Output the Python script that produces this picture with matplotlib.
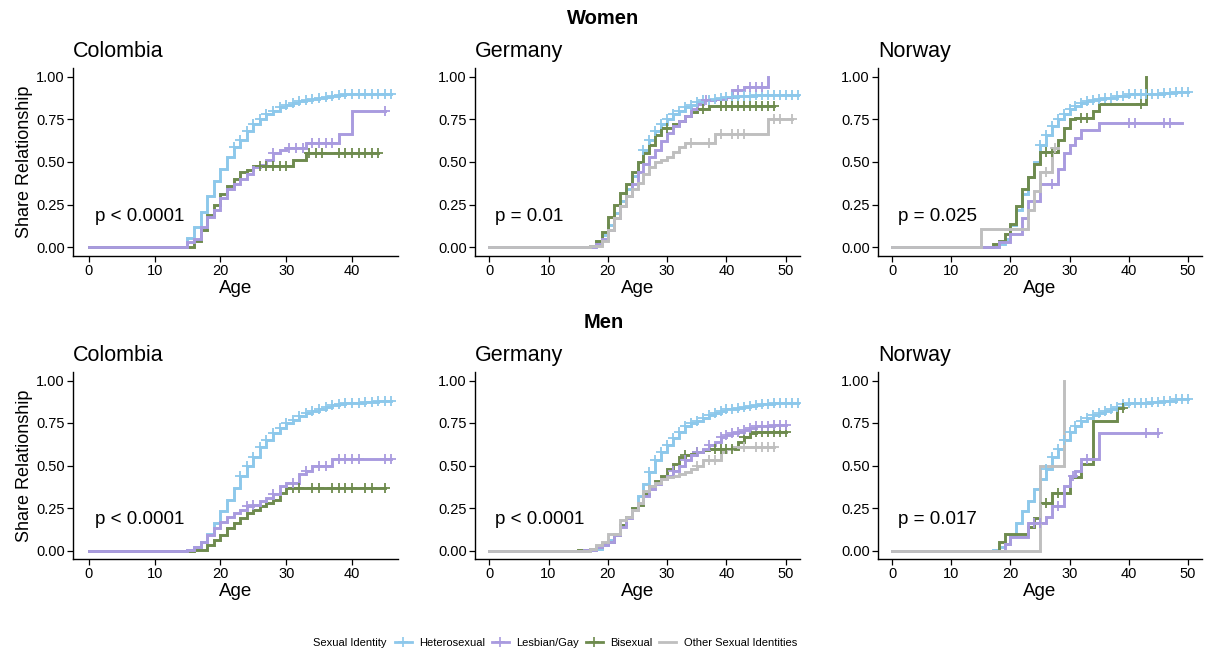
import numpy as np
import matplotlib
matplotlib.use("Agg")
from matplotlib import pyplot as plt
from matplotlib.lines import Line2D

plt.rcParams['font.family'] = ['Liberation Sans', 'DejaVu Sans']

groups = ["Heterosexual", "Lesbian/Gay", "Bisexual", "Other Sexual Identities"]
colors = {"Heterosexual": "#8dc8eb", "Lesbian/Gay": "#a99bdf",
          "Bisexual": "#6e8b4e", "Other Sexual Identities": "#bfbfbf"}
countries = ["Colombia", "Germany", "Norway"]
sexes = ["Women", "Men"]
pvals = {("Women", "Colombia"): "p < 0.0001", ("Women", "Germany"): "p = 0.01",
         ("Women", "Norway"): "p = 0.025", ("Men", "Colombia"): "p < 0.0001",
         ("Men", "Germany"): "p < 0.0001", ("Men", "Norway"): "p = 0.017"}
xmax = {"Colombia": 47.0, "Germany": 52.4, "Norway": 52.4}

# --- women, Colombia ---
wc_het_t = list(range(15, 41))
wc_het_s = [0.055, 0.12, 0.21, 0.30, 0.39, 0.46, 0.53, 0.59, 0.63, 0.68, 0.72, 0.75, 0.78, 0.80,
            0.82, 0.835, 0.845, 0.855, 0.865, 0.87, 0.875, 0.88, 0.885, 0.89, 0.895, 0.90]
wc_het_end = 46
wc_het_c = list(range(22, 47))
wc_les_t = [15, 16, 17, 18, 19, 20, 21, 22, 23, 24, 25, 26, 27, 28, 29, 30, 33, 38, 40]
wc_les_s = [0.03, 0.05, 0.12, 0.18, 0.22, 0.29, 0.34, 0.37, 0.40, 0.43, 0.47, 0.48, 0.51, 0.55,
            0.57, 0.58, 0.61, 0.665, 0.80]
wc_les_end = 45
wc_les_c = [28, 30.5, 31.5, 32.5, 34, 35, 36, 37, 45]
wc_bi_t = [16, 17, 18, 19, 20, 21, 22, 23, 24, 25, 31, 33]
wc_bi_s = [0.04, 0.10, 0.19, 0.25, 0.31, 0.36, 0.40, 0.44, 0.455, 0.475, 0.51, 0.55]
wc_bi_end = 44
wc_bi_c = [26, 27, 28, 29, 30, 33.5, 34.5, 35.5, 38, 39, 40, 41, 42, 43, 44]

# --- women, Germany ---
wg_het_t = list(range(17, 41)) + [42, 45]
wg_het_s = [0.01, 0.03, 0.07, 0.13, 0.20, 0.27, 0.34, 0.42, 0.50, 0.57, 0.63, 0.68, 0.72, 0.75,
            0.78, 0.80, 0.82, 0.835, 0.85, 0.86, 0.865, 0.87, 0.875, 0.88, 0.885, 0.89]
wg_het_end = 52
wg_het_c = list(range(26, 53))
wg_les_t = list(range(17, 37)) + [38, 40, 41, 43, 47]
wg_les_s = [0.005, 0.02, 0.05, 0.10, 0.17, 0.24, 0.30, 0.37, 0.44, 0.49, 0.53, 0.57, 0.62, 0.67,
            0.71, 0.74, 0.77, 0.81, 0.84, 0.86, 0.87, 0.88, 0.92, 0.94, 1.00]
wg_les_end = 47
wg_les_c = [36.5, 42, 44, 45, 46]
wg_bi_t = [17, 18, 19, 20, 21, 22, 23, 24, 25, 26, 27, 28, 29, 31, 32, 33, 34, 35, 37, 38]
wg_bi_s = [0.01, 0.04, 0.09, 0.18, 0.25, 0.32, 0.37, 0.44, 0.50, 0.55, 0.60, 0.66, 0.70, 0.72,
           0.74, 0.77, 0.79, 0.81, 0.825, 0.83]
wg_bi_end = 48
wg_bi_c = [30, 36, 39, 40, 41, 42, 43, 44, 45, 46, 47, 48]
wg_oth_t = [17, 19, 20, 21, 22, 23, 24, 25, 26, 27, 28, 29, 30, 31, 32, 33, 38, 47]
wg_oth_s = [0.01, 0.04, 0.10, 0.17, 0.24, 0.30, 0.34, 0.38, 0.43, 0.47, 0.50, 0.51, 0.53, 0.56,
            0.59, 0.61, 0.665, 0.75]
wg_oth_end = 51
wg_oth_c = [34, 37, 39, 41, 42, 43, 48, 49, 51]

# --- women, Norway ---
wn_het_t = list(range(17, 37)) + [38, 40, 43, 46, 48]
wn_het_s = [0.005, 0.02, 0.05, 0.13, 0.22, 0.31, 0.41, 0.50, 0.60, 0.66, 0.71, 0.75, 0.78, 0.81,
            0.83, 0.845, 0.855, 0.865, 0.87, 0.875, 0.885, 0.895, 0.90, 0.905, 0.91]
wn_het_end = 50
wn_het_c = list(range(25, 51))
wn_les_t = [18, 20, 22, 23, 25, 28, 29, 30, 31, 32, 35]
wn_les_s = [0.03, 0.08, 0.17, 0.27, 0.37, 0.46, 0.55, 0.60, 0.64, 0.69, 0.73]
wn_les_end = 49
wn_les_c = [27, 40, 41, 46, 47]
wn_bi_t = [17, 18, 19, 20, 21, 22, 23, 24, 25, 28, 29, 30, 31, 34, 35, 43]
wn_bi_s = [0.02, 0.04, 0.08, 0.14, 0.24, 0.34, 0.41, 0.49, 0.56, 0.63, 0.70, 0.75, 0.76, 0.80,
           0.84, 1.00]
wn_bi_end = 43
wn_bi_c = [26, 27, 32, 33, 42]
wn_oth_t = [15, 23, 24, 25, 27]
wn_oth_s = [0.11, 0.22, 0.33, 0.44, 0.58]
wn_oth_end = 28
wn_oth_c = [26, 27.6]

# --- men, Colombia ---
mc_het_t = list(range(15, 41)) + [42, 44]
mc_het_s = [0.005, 0.02, 0.05, 0.10, 0.16, 0.23, 0.30, 0.37, 0.44, 0.50, 0.55, 0.61, 0.65, 0.69,
            0.72, 0.75, 0.77, 0.79, 0.81, 0.82, 0.835, 0.845, 0.855, 0.86, 0.865, 0.87, 0.875, 0.88]
mc_het_end = 46
mc_het_c = list(range(23, 47))
mc_les_t = [15, 16, 17, 18, 19, 20, 21, 22, 23, 24, 25, 26, 27, 28, 29, 30, 32, 33, 34, 37]
mc_les_s = [0.005, 0.02, 0.05, 0.09, 0.13, 0.17, 0.20, 0.22, 0.24, 0.26, 0.27, 0.29, 0.31, 0.33,
            0.38, 0.40, 0.45, 0.47, 0.50, 0.54]
mc_les_end = 46
mc_les_c = [24, 25, 28, 31, 33, 35, 36, 38, 39, 40, 41, 45, 46]
mc_bi_t = [16, 18, 19, 20, 21, 22, 23, 24, 25, 26, 27, 28, 29, 30]
mc_bi_s = [0.005, 0.03, 0.06, 0.09, 0.13, 0.16, 0.19, 0.22, 0.24, 0.26, 0.28, 0.30, 0.34, 0.37]
mc_bi_end = 45
mc_bi_c = [31, 32, 34, 35, 37, 38, 39, 40, 42, 43, 45]

# --- men, Germany ---
mg_het_t = list(range(17, 47)) + [48, 50]
mg_het_s = [0.005, 0.01, 0.03, 0.06, 0.10, 0.15, 0.20, 0.25, 0.32, 0.39, 0.46, 0.53, 0.58, 0.62,
            0.66, 0.70, 0.73, 0.75, 0.76, 0.78, 0.80, 0.81, 0.82, 0.83, 0.835, 0.84, 0.845, 0.85,
            0.855, 0.86, 0.865, 0.87]
mg_het_end = 52
mg_het_c = list(range(27, 53))
mg_les_t = [16] + list(range(18, 46)) + [48]
mg_les_s = [0.005, 0.02, 0.03, 0.05, 0.09, 0.14, 0.19, 0.24, 0.28, 0.32, 0.36, 0.39, 0.42, 0.44,
            0.47, 0.50, 0.53, 0.56, 0.58, 0.60, 0.62, 0.64, 0.67, 0.68, 0.69, 0.70, 0.71, 0.72,
            0.73, 0.74]
mg_les_end = 50
mg_les_c = [31, 33, 35, 37, 39, 40, 41, 42, 43, 44, 45, 46, 47, 48, 49, 50]
mg_bi_t = [15] + list(range(17, 38)) + [42, 43, 44, 45]
mg_bi_s = [0.005, 0.01, 0.02, 0.04, 0.05, 0.09, 0.15, 0.20, 0.25, 0.27, 0.33, 0.38, 0.41, 0.44,
           0.48, 0.51, 0.55, 0.56, 0.57, 0.58, 0.59, 0.60, 0.64, 0.67, 0.69, 0.70]
mg_bi_end = 50
mg_bi_c = [33, 35, 38, 39, 40, 41, 43, 45, 46, 47, 48, 49, 50]
mg_oth_t = list(range(17, 37)) + [39, 40, 41]
mg_oth_s = [0.01, 0.03, 0.05, 0.10, 0.10, 0.18, 0.20, 0.24, 0.28, 0.35, 0.38, 0.40, 0.42, 0.43,
            0.44, 0.45, 0.46, 0.48, 0.50, 0.53, 0.58, 0.60, 0.61]
mg_oth_end = 48
mg_oth_c = [35, 37, 38, 43, 45, 46, 47, 48]

# --- men, Norway ---
mn_het_t = list(range(17, 41)) + [42, 44, 46, 48]
mn_het_s = [0.005, 0.02, 0.04, 0.09, 0.16, 0.23, 0.29, 0.36, 0.42, 0.48, 0.55, 0.60, 0.65, 0.70,
            0.73, 0.76, 0.78, 0.80, 0.81, 0.82, 0.835, 0.845, 0.86, 0.865, 0.87, 0.875, 0.88, 0.89]
mn_het_end = 50
mn_het_c = list(range(26, 51))
mn_les_t = [19, 20, 23, 26, 27, 29, 30, 31, 32, 35]
mn_les_s = [0.04, 0.08, 0.16, 0.20, 0.26, 0.38, 0.44, 0.47, 0.54, 0.69]
mn_les_end = 45
mn_les_c = [24, 25, 28, 30.5, 33, 43, 45]
mn_bi_t = [18, 19, 23, 24, 25, 27, 30, 32, 34, 38]
mn_bi_s = [0.05, 0.10, 0.14, 0.19, 0.28, 0.34, 0.43, 0.51, 0.76, 0.84]
mn_bi_end = 39
mn_bi_c = [26, 28, 39]
mn_oth_t = [25, 29]
mn_oth_s = [0.50, 1.00]
mn_oth_end = 29
mn_oth_c = []

curves = {
    ("Women", "Colombia"): {"Heterosexual": (wc_het_t, wc_het_s, wc_het_end, wc_het_c),
                            "Lesbian/Gay": (wc_les_t, wc_les_s, wc_les_end, wc_les_c),
                            "Bisexual": (wc_bi_t, wc_bi_s, wc_bi_end, wc_bi_c)},
    ("Women", "Germany"): {"Heterosexual": (wg_het_t, wg_het_s, wg_het_end, wg_het_c),
                           "Lesbian/Gay": (wg_les_t, wg_les_s, wg_les_end, wg_les_c),
                           "Bisexual": (wg_bi_t, wg_bi_s, wg_bi_end, wg_bi_c),
                           "Other Sexual Identities": (wg_oth_t, wg_oth_s, wg_oth_end, wg_oth_c)},
    ("Women", "Norway"): {"Heterosexual": (wn_het_t, wn_het_s, wn_het_end, wn_het_c),
                          "Lesbian/Gay": (wn_les_t, wn_les_s, wn_les_end, wn_les_c),
                          "Bisexual": (wn_bi_t, wn_bi_s, wn_bi_end, wn_bi_c),
                          "Other Sexual Identities": (wn_oth_t, wn_oth_s, wn_oth_end, wn_oth_c)},
    ("Men", "Colombia"): {"Heterosexual": (mc_het_t, mc_het_s, mc_het_end, mc_het_c),
                          "Lesbian/Gay": (mc_les_t, mc_les_s, mc_les_end, mc_les_c),
                          "Bisexual": (mc_bi_t, mc_bi_s, mc_bi_end, mc_bi_c)},
    ("Men", "Germany"): {"Heterosexual": (mg_het_t, mg_het_s, mg_het_end, mg_het_c),
                         "Lesbian/Gay": (mg_les_t, mg_les_s, mg_les_end, mg_les_c),
                         "Bisexual": (mg_bi_t, mg_bi_s, mg_bi_end, mg_bi_c),
                         "Other Sexual Identities": (mg_oth_t, mg_oth_s, mg_oth_end, mg_oth_c)},
    ("Men", "Norway"): {"Heterosexual": (mn_het_t, mn_het_s, mn_het_end, mn_het_c),
                        "Lesbian/Gay": (mn_les_t, mn_les_s, mn_les_end, mn_les_c),
                        "Bisexual": (mn_bi_t, mn_bi_s, mn_bi_end, mn_bi_c),
                        "Other Sexual Identities": (mn_oth_t, mn_oth_s, mn_oth_end, mn_oth_c)},
}

W, H = 1207, 655
fig = plt.figure(figsize=(W / 100, H / 100), dpi=100)

# axes boxes in pixels: left, right per column; top, bottom per row
col_px = {"Colombia": (73, 398), "Germany": (475, 800), "Norway": (878, 1202)}
row_px = {"Women": (68, 256), "Men": (372, 559)}
header_y = {"Women": 18, "Men": 323}

draw_order = ["Heterosexual", "Bisexual", "Lesbian/Gay", "Other Sexual Identities"]

for sex in sexes:
    fig.text(0.5, 1 - header_y[sex] / H, sex, ha='center', va='center',
             fontsize=14.5, fontweight='bold')
    for country in countries:
        l, r = col_px[country]
        t, b = row_px[sex]
        ax = fig.add_axes([l / W, 1 - b / H, (r - l) / W, (b - t) / H])
        for g in draw_order:
            if g not in curves[(sex, country)]:
                continue
            tt, ss, end, cens = curves[(sex, country)][g]
            xs = np.array([0] + list(tt) + [end], dtype=float)
            ys = np.array([0] + list(ss) + [ss[-1]], dtype=float)
            ax.plot(xs, ys, drawstyle='steps-post', color=colors[g], lw=2.1,
                    solid_joinstyle='miter', zorder=2)
            if len(cens):
                cy = ys[np.searchsorted(xs[:-1], cens, side='right') - 1]
                ax.plot(cens, cy, ls='none', marker='+', ms=7, mew=1.3,
                        color=colors[g], zorder=3)
        ax.text(1.0, 0.18, pvals[(sex, country)], ha='left', va='center', fontsize=13.5)
        ax.set_xlim(-2.4, xmax[country])
        ax.set_ylim(-0.05, 1.05)
        ax.set_yticks([0, 0.25, 0.5, 0.75, 1.0])
        ax.set_yticklabels(["0.00", "0.25", "0.50", "0.75", "1.00"])
        if country == "Colombia":
            ax.set_xticks([0, 10, 20, 30, 40])
            ax.set_ylabel("Share Relationship", fontsize=13, labelpad=2)
        else:
            ax.set_xticks([0, 10, 20, 30, 40, 50])
        ax.set_xlabel("Age", fontsize=13.5, labelpad=1)
        ax.set_title(country, loc='left', fontsize=15.5, pad=8)
        for s in ["top", "right"]:
            ax.spines[s].set_visible(False)
        for s in ["left", "bottom"]:
            ax.spines[s].set_linewidth(1.0)
        ax.tick_params(labelsize=10.5, length=4, width=0.9, colors='black', pad=2)

# legend along the bottom
handles = [Line2D([], [], color=colors[g], lw=2, marker='+', ms=7, mew=1.2) for g in groups[:3]]
handles.append(Line2D([], [], color=colors[groups[3]], lw=2))
fig.text(313 / W, 1 - 643 / H, "Sexual Identity", ha='left', va='center', fontsize=8)
fig.legend(handles, groups, loc='center left', bbox_to_anchor=(395 / W, 1 - 643 / H),
           ncol=4, frameon=False, fontsize=8, handlelength=1.5, handletextpad=0.7,
           columnspacing=0.6, borderpad=0, borderaxespad=0)

fig.savefig("out.png", dpi=100)
